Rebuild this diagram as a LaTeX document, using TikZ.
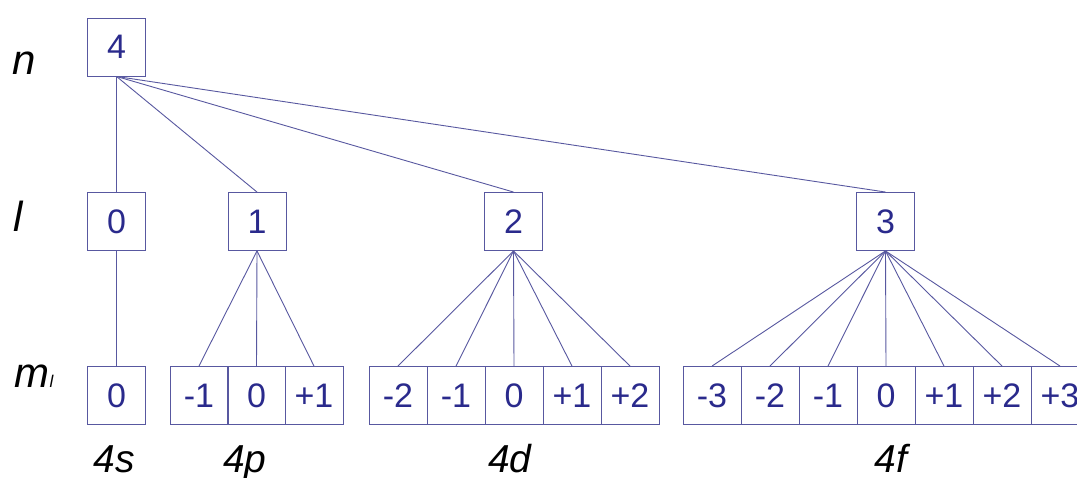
\documentclass[tikz,border=0pt]{standalone}
\usepackage{fontspec}
\setmainfont{Liberation Sans}
\definecolor{boxblue}{RGB}{88,88,160}
\definecolor{numblue}{RGB}{42,42,140}
\tikzset{
	qbox/.style={draw=boxblue,line width=0.9pt,minimum width=58pt,minimum height=58pt,inner sep=0pt,text=numblue,font=\fontsize{34}{34}\selectfont},
	link/.style={draw=boxblue,line width=0.9pt},
	rowlab/.style={anchor=base,font=\fontsize{42}{42}\selectfont\itshape},
	sublab/.style={anchor=base,font=\fontsize{39}{39}\selectfont\itshape}
}
\begin{document}
\begin{tikzpicture}[x=1pt,y=-1pt]
	\clip (0,0) rectangle (1077,478);
	\fill[white] (0,0) rectangle (1077,478);
	
	% quantum numbers
	\node[rowlab] (ln) at (24,75) {n};
	\node[rowlab] (ll) at (18,232) {l};
	\node[rowlab] (lm) at (34,388) {m{\fontsize{17}{17}\selectfont l}};
	
	\node[qbox] (n4) at (116.5,47) {4};
	
	\node[qbox] (l0) at (116.5,221.5) {0};
	\node[qbox] (l1) at (257,221.5) {1};
	\node[qbox] (l2) at (513.5,221.5) {2};
	\node[qbox] (l3) at (885.5,221.5) {3};
	
	\foreach \i in {0,1,2,3}
		\draw[link] (n4.south) -- (l\i.north);
	
	% 4s
	\node[qbox] (s1) at (116.5,395.5) {0};
	\draw[link] (l0) -- (s1);
	% 4p
	\foreach \lab [count=\i] in {-1,0,+1}
		\node[qbox] (p\i) at ({256.5+57.5*(\i-2)},395.5) {\lab};
	\foreach \i in {1,...,3}
		\draw[link] (l1.south) -- (p\i.north);
	% 4d
	\foreach \lab [count=\i] in {-2,-1,0,+1,+2}
		\node[qbox] (d\i) at ({514+58*(\i-3)},395.5) {\lab};
	\foreach \i in {1,...,5}
		\draw[link] (l2.south) -- (d\i.north);
	% 4f
	\foreach \lab [count=\i] in {-3,-2,-1,0,+1,+2,+3}
		\node[qbox] (f\i) at ({886+58*(\i-4)},395.5) {\lab};
	\foreach \i in {1,...,7}
		\draw[link] (l3.south) -- (f\i.north);
	
	% subshells
	\node[sublab] (s) at (114,472) {4s};
	\node[sublab] (p) at (245,472) {4p};
	\node[sublab] (d) at (510,472) {4d};
	\node[sublab] (f) at (891,472) {4f};
\end{tikzpicture}
\end{document}
